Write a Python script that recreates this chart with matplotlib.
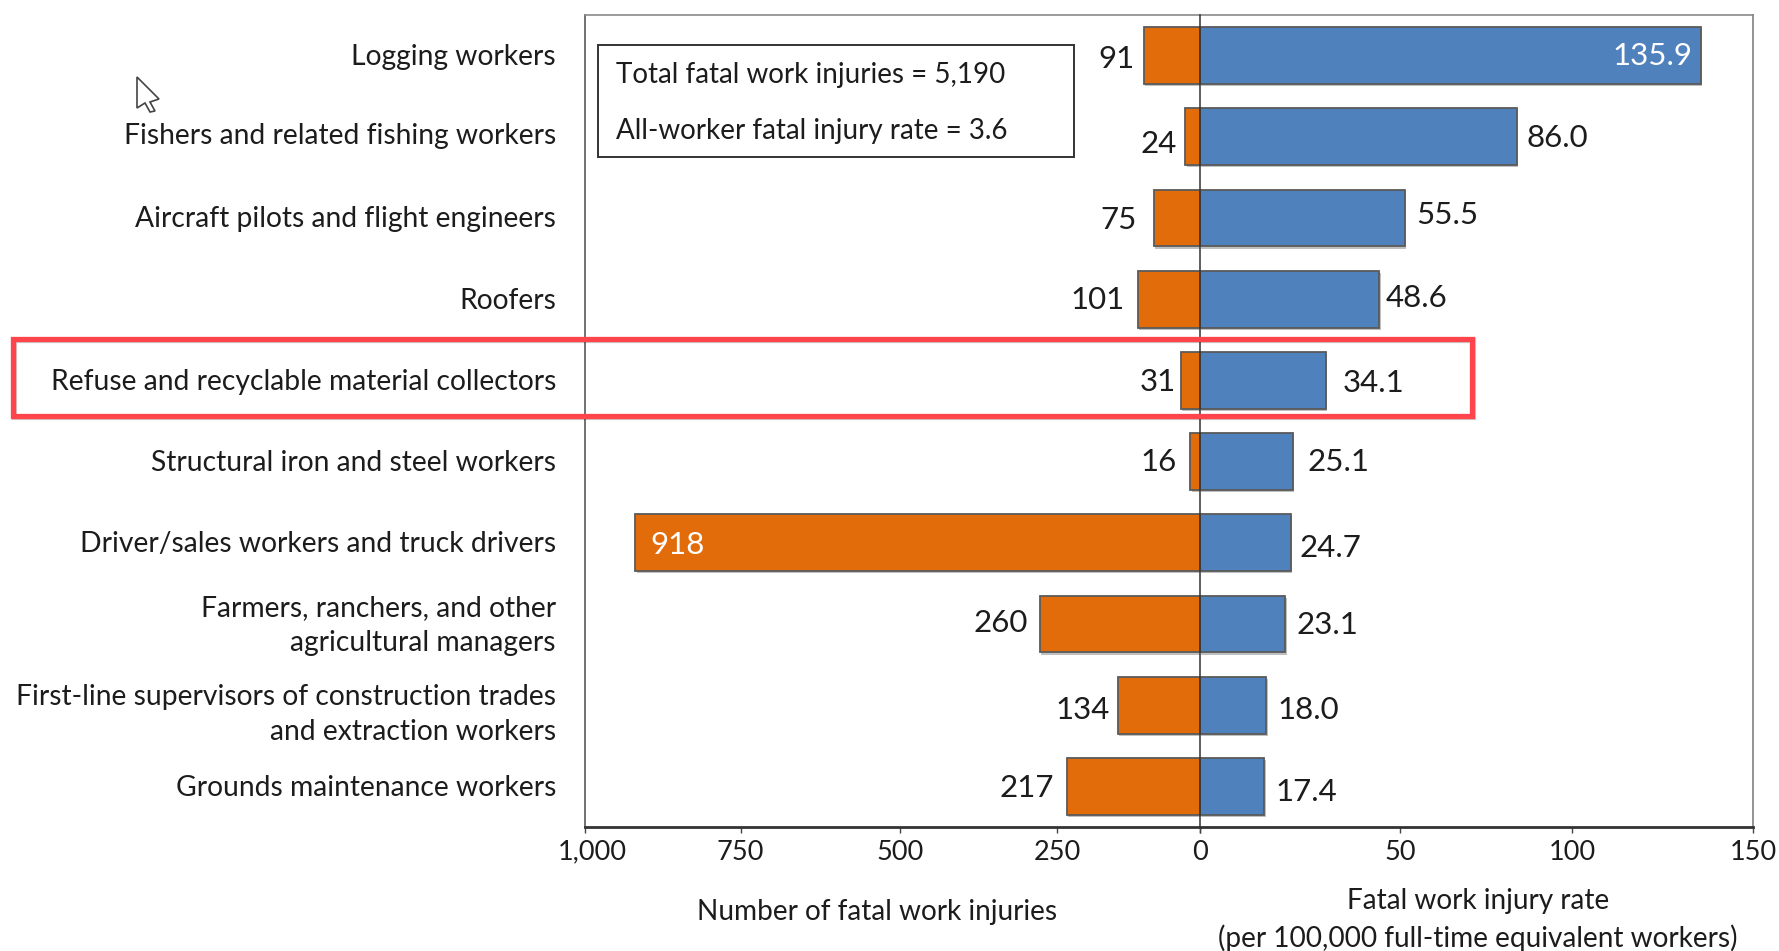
import matplotlib
matplotlib.use("Agg")
import matplotlib.pyplot as plt
import matplotlib.patheffects as pe
from matplotlib.patches import Rectangle, Polygon
from matplotlib.transforms import ScaledTranslation

W, H = 1779, 951

occupations = [
    "Logging workers",
    "Fishers and related fishing workers",
    "Aircraft pilots and flight engineers",
    "Roofers",
    "Refuse and recyclable material collectors",
    "Structural iron and steel workers",
    "Driver/sales workers and truck drivers",
    "Farmers, ranchers, and other\nagricultural managers",
    "First-line supervisors of construction trades\nand extraction workers",
    "Grounds maintenance workers",
]
fatal_counts = [91, 24, 75, 101, 31, 16, 918, 260, 134, 217]
fatal_rates = [135.9, 86.0, 55.5, 48.6, 34.1, 25.1, 24.7, 23.1, 18.0, 17.4]

count_tick_labels = ["1,000", "750", "500", "250", "0"]
rate_tick_labels = ["0", "50", "100", "150"]

# ticks in the source do not sit quite where the bars' scale puts them
count_tick_pos = [1000, 747, 487, 232, 0]
rate_tick_pos = [0, 54.2, 101, 150]

# label nudges in pixels from the end of each bar (x, y up)
count_dx = [-28, -27, -35, -40, -23, -32, 42, -39, -35, -40]
count_dy = [-2, -6, -1, 1, 0, 1, -1, 2, -3, 0]
rate_dx = [-49, 40, 43, 37, 48, 46, 39, 42, 42, 42]
rate_dy = [1, 0, 4, 3, -1, 1, -4, 0, -3, -4]
name_dy = [0, 2, 0, 0, 0, 0, 0, 0, -8, 0]
TEXT_SHIFT = -1.5

ORANGE = "#E36C0A"
BLUE = "#4F81BD"
EDGE = "#5A5A5A"
TEXT = "#1C1C1C"
RED = "#FF444B"

plt.rcParams["font.family"] = ["Lato", "DejaVu Sans"]


def fx(x):
    return x / W


def fy(y):
    return 1 - y / H


fig = plt.figure(figsize=(W / 100, H / 100), dpi=100)

left, zero, right = 585, 1200, 1753
top, bottom = 15, 827
ax_l = fig.add_axes([fx(left), fy(bottom), (zero - left) / W, (bottom - top) / H])
ax_r = fig.add_axes([fx(zero), fy(bottom), (right - zero) / W, (bottom - top) / H])

rows = list(range(len(occupations)))
shadow = [pe.SimplePatchShadow(offset=(1, -1.5), shadow_rgbFace="#000000", alpha=0.25), pe.Normal()]

bars_l = ax_l.barh(rows, fatal_counts, height=0.7, color=ORANGE, edgecolor=EDGE, linewidth=1.3)
bars_r = ax_r.barh(rows, fatal_rates, height=0.7, color=BLUE, edgecolor=EDGE, linewidth=1.3)
for b in list(bars_l) + list(bars_r):
    b.set_path_effects(shadow)

ax_l.set_xlim(1000, 0)
ax_r.set_xlim(0, 150)
for ax in (ax_l, ax_r):
    ax.set_ylim(9.5, -0.5)
    ax.set_yticks([])
    ax.spines["bottom"].set_linewidth(2.0)
    ax.spines["bottom"].set_color("#333333")
    ax.spines["top"].set_linewidth(1.2)
    ax.spines["top"].set_color("#8A8A8A")

ax_l.spines["right"].set_visible(False)
ax_r.spines["left"].set_linewidth(1.1)
ax_r.spines["left"].set_color("#333333")
ax_r.spines["left"].set_zorder(5)
ax_l.spines["left"].set_linewidth(1.3)
ax_l.spines["left"].set_color("#666666")
ax_r.spines["right"].set_linewidth(1.3)
ax_r.spines["right"].set_color("#8A8A8A")

ax_l.set_xticks(count_tick_pos, labels=count_tick_labels)
ax_r.set_xticks(rate_tick_pos, labels=rate_tick_labels)
for ax in (ax_l, ax_r):
    ax.tick_params(axis="x", length=4, width=1, color="#444444", pad=5, labelsize=19.5, labelcolor=TEXT)
ax_l.get_xticklabels()[-1].set_visible(False)

# "1,000" sits a little right of its tick in the source
first_label = ax_l.get_xticklabels()[0]
first_label.set_transform(first_label.get_transform() + ScaledTranslation(0.07, 0, fig.dpi_scale_trans))

for i, name in enumerate(occupations):
    ax_l.annotate(name, xy=(0, i), xycoords=ax_l.get_yaxis_transform(),
                  xytext=(-29, name_dy[i] + TEXT_SHIFT), textcoords="offset pixels",
                  ha="right", va="center", fontsize=20.3, color=TEXT,
                  linespacing=1.45, annotation_clip=False)

for i, v in enumerate(fatal_counts):
    ax_l.annotate(str(v), xy=(v, i), xytext=(count_dx[i], count_dy[i] + TEXT_SHIFT), textcoords="offset pixels",
                  ha="center", va="center", fontsize=22.5,
                  color="white" if v > 900 else TEXT, annotation_clip=False)

for i, v in enumerate(fatal_rates):
    ax_r.annotate(f"{v:.1f}", xy=(v, i), xytext=(rate_dx[i], rate_dy[i] + TEXT_SHIFT), textcoords="offset pixels",
                  ha="center", va="center", fontsize=22.5,
                  color="white" if v > 100 else TEXT, annotation_clip=False)

# summary box
fig.add_artist(Rectangle((fx(598), fy(157)), 476 / W, 112 / H, transform=fig.transFigure,
                         facecolor="white", edgecolor="#333333", linewidth=1.4, zorder=6))
fig.text(fx(616), fy(75), "Total fatal work injuries = 5,190", ha="left", va="center",
         fontsize=20, color=TEXT, zorder=7)
fig.text(fx(616), fy(131), "All-worker fatal injury rate = 3.6", ha="left", va="center",
         fontsize=20, color=TEXT, zorder=7)

# axis captions
fig.text(fx(877), fy(912), "Number of fatal work injuries", ha="center", va="center",
         fontsize=20.2, color=TEXT)
fig.text(fx(1478), fy(901), "Fatal work injury rate", ha="center", va="center",
         fontsize=20.2, color=TEXT)
fig.text(fx(1478), fy(938), "(per 100,000 full-time equivalent workers)", ha="center", va="center",
         fontsize=20.2, color=TEXT)

# red highlight drawn over the screenshot
box = Rectangle((fx(13), fy(416)), 1459 / W, 77 / H, transform=fig.transFigure,
                facecolor="none", edgecolor=RED, linewidth=3.8, zorder=8)
box.set_path_effects([pe.SimpleLineShadow(offset=(1, -1), shadow_color="#000000", alpha=0.2), pe.Normal()])
fig.add_artist(box)

# mouse pointer from the screenshot
cursor_px = [(137, 77), (137, 108), (145, 103), (150, 112), (155, 111), (150, 102), (159, 99)]
fig.add_artist(Polygon([(fx(x), fy(y)) for x, y in cursor_px], closed=True, transform=fig.transFigure,
                       facecolor="white", edgecolor="#444444", linewidth=1.2, zorder=8))

fig.savefig("out.png", dpi=100, facecolor="white")
